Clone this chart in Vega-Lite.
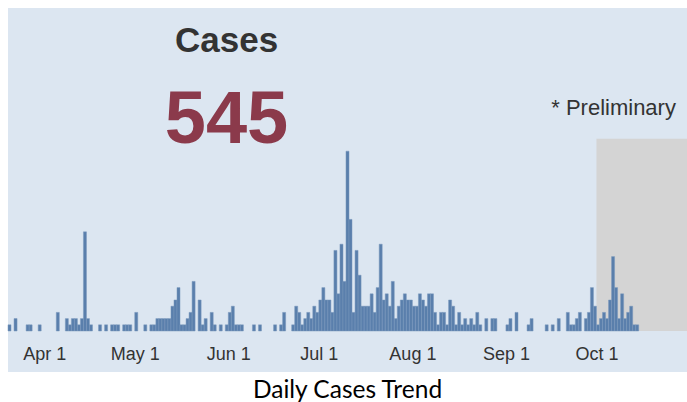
{
  "$schema": "https://vega.github.io/schema/vega-lite/v6.json",
  "width": 679,
  "height": 364,
  "autosize": "none",
  "padding": {"left": 8, "top": 8, "right": 0, "bottom": 30},
  "background": "white",
  "config": {"view": {"fill": "#dce6f1", "stroke": null}, "font": "Liberation Sans"},
  "title": {"text": "Daily Cases Trend", "orient": "bottom", "anchor": "middle", "font": "Lato", "fontSize": 24.5, "fontWeight": "normal", "color": "#000000", "offset": 7},
  "datasets": {
    "prelim": [{"start": "2020-10-01", "end": "2020-10-31", "low": 0, "high": 31}],
    "notes": [
      {"label": "Cases", "date": "2020-05-31T10:00:00Z", "v": 45},
      {"label": "545", "date": "2020-05-31T10:00:00Z", "v": 30.3},
      {"label": "* Preliminary", "date": "2020-10-27T08:00:00Z", "v": 34.9}
    ],
    "daily": [
        {"date": "2020-03-20", "end": "2020-03-21", "cases": 1},
        {"date": "2020-03-22", "end": "2020-03-23", "cases": 2},
        {"date": "2020-03-26", "end": "2020-03-27", "cases": 1},
        {"date": "2020-03-27", "end": "2020-03-28", "cases": 1},
        {"date": "2020-03-30", "end": "2020-03-31", "cases": 1},
        {"date": "2020-04-05", "end": "2020-04-06", "cases": 3},
        {"date": "2020-04-08", "end": "2020-04-09", "cases": 2},
        {"date": "2020-04-09", "end": "2020-04-10", "cases": 1},
        {"date": "2020-04-10", "end": "2020-04-11", "cases": 2},
        {"date": "2020-04-11", "end": "2020-04-12", "cases": 2},
        {"date": "2020-04-12", "end": "2020-04-13", "cases": 1},
        {"date": "2020-04-13", "end": "2020-04-14", "cases": 2},
        {"date": "2020-04-14", "end": "2020-04-15", "cases": 16},
        {"date": "2020-04-15", "end": "2020-04-16", "cases": 2},
        {"date": "2020-04-16", "end": "2020-04-17", "cases": 1},
        {"date": "2020-04-19", "end": "2020-04-20", "cases": 1},
        {"date": "2020-04-21", "end": "2020-04-22", "cases": 1},
        {"date": "2020-04-23", "end": "2020-04-24", "cases": 1},
        {"date": "2020-04-24", "end": "2020-04-25", "cases": 1},
        {"date": "2020-04-25", "end": "2020-04-26", "cases": 1},
        {"date": "2020-04-27", "end": "2020-04-28", "cases": 1},
        {"date": "2020-04-28", "end": "2020-04-29", "cases": 1},
        {"date": "2020-04-29", "end": "2020-04-30", "cases": 1},
        {"date": "2020-05-01", "end": "2020-05-02", "cases": 3},
        {"date": "2020-05-04", "end": "2020-05-05", "cases": 1},
        {"date": "2020-05-06", "end": "2020-05-07", "cases": 1},
        {"date": "2020-05-07", "end": "2020-05-08", "cases": 1},
        {"date": "2020-05-08", "end": "2020-05-09", "cases": 2},
        {"date": "2020-05-09", "end": "2020-05-10", "cases": 2},
        {"date": "2020-05-10", "end": "2020-05-11", "cases": 2},
        {"date": "2020-05-11", "end": "2020-05-12", "cases": 2},
        {"date": "2020-05-12", "end": "2020-05-13", "cases": 2},
        {"date": "2020-05-13", "end": "2020-05-14", "cases": 4},
        {"date": "2020-05-14", "end": "2020-05-15", "cases": 5},
        {"date": "2020-05-15", "end": "2020-05-16", "cases": 7},
        {"date": "2020-05-16", "end": "2020-05-17", "cases": 1},
        {"date": "2020-05-17", "end": "2020-05-18", "cases": 1},
        {"date": "2020-05-18", "end": "2020-05-19", "cases": 2},
        {"date": "2020-05-19", "end": "2020-05-20", "cases": 3},
        {"date": "2020-05-20", "end": "2020-05-21", "cases": 8},
        {"date": "2020-05-22", "end": "2020-05-23", "cases": 5},
        {"date": "2020-05-23", "end": "2020-05-24", "cases": 1},
        {"date": "2020-05-24", "end": "2020-05-25", "cases": 2},
        {"date": "2020-05-26", "end": "2020-05-27", "cases": 3},
        {"date": "2020-05-27", "end": "2020-05-28", "cases": 1},
        {"date": "2020-05-29", "end": "2020-05-30", "cases": 1},
        {"date": "2020-05-31", "end": "2020-06-01", "cases": 1},
        {"date": "2020-06-01", "end": "2020-06-02", "cases": 3},
        {"date": "2020-06-02", "end": "2020-06-03", "cases": 4},
        {"date": "2020-06-03", "end": "2020-06-04", "cases": 1},
        {"date": "2020-06-04", "end": "2020-06-05", "cases": 1},
        {"date": "2020-06-05", "end": "2020-06-06", "cases": 1},
        {"date": "2020-06-09", "end": "2020-06-10", "cases": 1},
        {"date": "2020-06-11", "end": "2020-06-12", "cases": 1},
        {"date": "2020-06-16", "end": "2020-06-17", "cases": 1},
        {"date": "2020-06-18", "end": "2020-06-19", "cases": 1},
        {"date": "2020-06-19", "end": "2020-06-20", "cases": 3},
        {"date": "2020-06-22", "end": "2020-06-23", "cases": 1},
        {"date": "2020-06-23", "end": "2020-06-24", "cases": 4},
        {"date": "2020-06-24", "end": "2020-06-25", "cases": 3},
        {"date": "2020-06-25", "end": "2020-06-26", "cases": 1},
        {"date": "2020-06-26", "end": "2020-06-27", "cases": 2},
        {"date": "2020-06-27", "end": "2020-06-28", "cases": 3},
        {"date": "2020-06-28", "end": "2020-06-29", "cases": 2},
        {"date": "2020-06-29", "end": "2020-06-30", "cases": 4},
        {"date": "2020-06-30", "end": "2020-07-01", "cases": 3},
        {"date": "2020-07-01", "end": "2020-07-02", "cases": 5},
        {"date": "2020-07-02", "end": "2020-07-03", "cases": 7},
        {"date": "2020-07-03", "end": "2020-07-04", "cases": 5},
        {"date": "2020-07-04", "end": "2020-07-05", "cases": 5},
        {"date": "2020-07-05", "end": "2020-07-06", "cases": 3},
        {"date": "2020-07-06", "end": "2020-07-07", "cases": 13},
        {"date": "2020-07-07", "end": "2020-07-08", "cases": 6},
        {"date": "2020-07-08", "end": "2020-07-09", "cases": 14},
        {"date": "2020-07-09", "end": "2020-07-10", "cases": 8},
        {"date": "2020-07-10", "end": "2020-07-11", "cases": 29},
        {"date": "2020-07-11", "end": "2020-07-12", "cases": 18},
        {"date": "2020-07-12", "end": "2020-07-13", "cases": 3},
        {"date": "2020-07-13", "end": "2020-07-14", "cases": 13},
        {"date": "2020-07-14", "end": "2020-07-15", "cases": 9},
        {"date": "2020-07-15", "end": "2020-07-16", "cases": 4},
        {"date": "2020-07-16", "end": "2020-07-17", "cases": 4},
        {"date": "2020-07-17", "end": "2020-07-18", "cases": 4},
        {"date": "2020-07-18", "end": "2020-07-19", "cases": 6},
        {"date": "2020-07-19", "end": "2020-07-20", "cases": 3},
        {"date": "2020-07-20", "end": "2020-07-21", "cases": 7},
        {"date": "2020-07-21", "end": "2020-07-22", "cases": 14},
        {"date": "2020-07-22", "end": "2020-07-23", "cases": 5},
        {"date": "2020-07-23", "end": "2020-07-24", "cases": 6},
        {"date": "2020-07-24", "end": "2020-07-25", "cases": 4},
        {"date": "2020-07-25", "end": "2020-07-26", "cases": 8},
        {"date": "2020-07-26", "end": "2020-07-27", "cases": 2},
        {"date": "2020-07-27", "end": "2020-07-28", "cases": 4},
        {"date": "2020-07-28", "end": "2020-07-29", "cases": 5},
        {"date": "2020-07-29", "end": "2020-07-30", "cases": 6},
        {"date": "2020-07-30", "end": "2020-07-31", "cases": 5},
        {"date": "2020-07-31", "end": "2020-08-01", "cases": 5},
        {"date": "2020-08-01", "end": "2020-08-02", "cases": 4},
        {"date": "2020-08-02", "end": "2020-08-03", "cases": 4},
        {"date": "2020-08-03", "end": "2020-08-04", "cases": 6},
        {"date": "2020-08-04", "end": "2020-08-05", "cases": 5},
        {"date": "2020-08-05", "end": "2020-08-06", "cases": 4},
        {"date": "2020-08-06", "end": "2020-08-07", "cases": 6},
        {"date": "2020-08-07", "end": "2020-08-08", "cases": 6},
        {"date": "2020-08-08", "end": "2020-08-09", "cases": 3},
        {"date": "2020-08-09", "end": "2020-08-10", "cases": 1},
        {"date": "2020-08-10", "end": "2020-08-11", "cases": 3},
        {"date": "2020-08-11", "end": "2020-08-12", "cases": 3},
        {"date": "2020-08-12", "end": "2020-08-13", "cases": 1},
        {"date": "2020-08-13", "end": "2020-08-14", "cases": 5},
        {"date": "2020-08-14", "end": "2020-08-15", "cases": 4},
        {"date": "2020-08-15", "end": "2020-08-16", "cases": 1},
        {"date": "2020-08-16", "end": "2020-08-17", "cases": 3},
        {"date": "2020-08-17", "end": "2020-08-18", "cases": 1},
        {"date": "2020-08-18", "end": "2020-08-19", "cases": 2},
        {"date": "2020-08-19", "end": "2020-08-20", "cases": 1},
        {"date": "2020-08-20", "end": "2020-08-21", "cases": 2},
        {"date": "2020-08-21", "end": "2020-08-22", "cases": 1},
        {"date": "2020-08-22", "end": "2020-08-23", "cases": 3},
        {"date": "2020-08-23", "end": "2020-08-24", "cases": 1},
        {"date": "2020-08-25", "end": "2020-08-26", "cases": 2},
        {"date": "2020-08-27", "end": "2020-08-28", "cases": 2},
        {"date": "2020-08-28", "end": "2020-08-29", "cases": 2},
        {"date": "2020-09-01", "end": "2020-09-02", "cases": 1},
        {"date": "2020-09-02", "end": "2020-09-03", "cases": 2},
        {"date": "2020-09-04", "end": "2020-09-05", "cases": 3},
        {"date": "2020-09-08", "end": "2020-09-09", "cases": 1},
        {"date": "2020-09-09", "end": "2020-09-10", "cases": 2},
        {"date": "2020-09-14", "end": "2020-09-15", "cases": 1},
        {"date": "2020-09-16", "end": "2020-09-17", "cases": 1},
        {"date": "2020-09-18", "end": "2020-09-19", "cases": 2},
        {"date": "2020-09-21", "end": "2020-09-22", "cases": 3},
        {"date": "2020-09-22", "end": "2020-09-23", "cases": 1},
        {"date": "2020-09-23", "end": "2020-09-24", "cases": 1},
        {"date": "2020-09-24", "end": "2020-09-25", "cases": 2},
        {"date": "2020-09-25", "end": "2020-09-26", "cases": 3},
        {"date": "2020-09-27", "end": "2020-09-28", "cases": 2},
        {"date": "2020-09-28", "end": "2020-09-29", "cases": 3},
        {"date": "2020-09-29", "end": "2020-09-30", "cases": 7},
        {"date": "2020-09-30", "end": "2020-10-01", "cases": 4},
        {"date": "2020-10-01", "end": "2020-10-02", "cases": 1},
        {"date": "2020-10-02", "end": "2020-10-03", "cases": 2},
        {"date": "2020-10-03", "end": "2020-10-04", "cases": 3},
        {"date": "2020-10-04", "end": "2020-10-05", "cases": 2},
        {"date": "2020-10-05", "end": "2020-10-06", "cases": 5},
        {"date": "2020-10-06", "end": "2020-10-07", "cases": 12},
        {"date": "2020-10-07", "end": "2020-10-08", "cases": 7},
        {"date": "2020-10-08", "end": "2020-10-09", "cases": 2},
        {"date": "2020-10-09", "end": "2020-10-10", "cases": 6},
        {"date": "2020-10-10", "end": "2020-10-11", "cases": 2},
        {"date": "2020-10-11", "end": "2020-10-12", "cases": 3},
        {"date": "2020-10-12", "end": "2020-10-13", "cases": 4},
        {"date": "2020-10-13", "end": "2020-10-14", "cases": 1},
        {"date": "2020-10-14", "end": "2020-10-15", "cases": 1}
    ]
  },
  "layer": [
    {
      "data": {"name": "prelim"},
      "mark": {"type": "rect", "color": "#d4d4d4"},
      "encoding": {
        "x": {"field": "start", "type": "temporal", "scale": {"type": "utc", "domain": [1584662400000, 1604102400000], "nice": false}, "axis": {
            "orient": "bottom", "offset": -41, "domain": false, "ticks": false, "grid": false, "title": null,
            "format": "%b %-d", "labelFlush": false, "labelOverlap": false,
            "values": [1585699200000, 1588291200000, 1590969600000, 1593561600000, 1596240000000, 1598918400000, 1601510400000],
            "labelFont": "Liberation Sans", "labelFontSize": 18, "labelColor": "#333333", "labelPadding": 14
          }},
        "x2": {"field": "end"},
        "y": {"field": "low", "type": "quantitative", "scale": {"domain": [-6.613, 52.097], "nice": false, "zero": false, "padding": 0}, "axis": null},
        "y2": {"field": "high"}
      }
    },
    {
      "data": {"name": "daily"},
      "mark": {"type": "rect", "color": "#5a7fac", "stroke": "#7b98bd", "strokeWidth": 0.5},
      "encoding": {
        "x": {"field": "date", "type": "temporal"},
        "x2": {"field": "end"},
        "y": {"field": "cases", "type": "quantitative"},
        "y2": {"datum": 0}
      }
    },
    {
      "data": {"name": "notes"},
      "transform": [{"filter": "datum.label == 'Cases'"}],
      "mark": {"type": "text", "font": "Liberation Sans", "fontSize": 35, "fontWeight": "bold", "color": "#333333", "align": "center", "baseline": "alphabetic"},
      "encoding": {
        "x": {"field": "date", "type": "temporal"},
        "y": {"field": "v", "type": "quantitative"},
        "text": {"field": "label"}
      }
    },
    {
      "data": {"name": "notes"},
      "transform": [{"filter": "datum.label == '545'"}],
      "mark": {"type": "text", "font": "Liberation Sans", "fontSize": 74, "fontWeight": "bold", "color": "#8b3a4b", "align": "center", "baseline": "alphabetic"},
      "encoding": {
        "x": {"field": "date", "type": "temporal"},
        "y": {"field": "v", "type": "quantitative"},
        "text": {"field": "label"}
      }
    },
    {
      "data": {"name": "notes"},
      "transform": [{"filter": "datum.label == '* Preliminary'"}],
      "mark": {"type": "text", "font": "Liberation Sans", "fontSize": 22, "color": "#333333", "align": "right", "baseline": "alphabetic"},
      "encoding": {
        "x": {"field": "date", "type": "temporal"},
        "y": {"field": "v", "type": "quantitative"},
        "text": {"field": "label"}
      }
    }
  ]
}
